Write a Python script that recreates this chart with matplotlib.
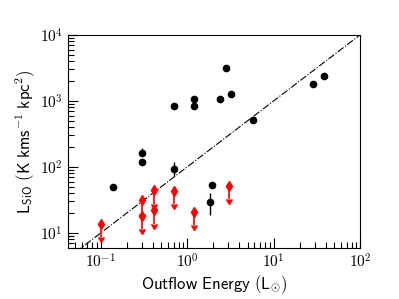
import matplotlib
matplotlib.use("Agg")
import matplotlib.pyplot as plt
import numpy as np
from matplotlib.ticker import FixedLocator, FixedFormatter, LogLocator, NullFormatter

plt.rcParams['mathtext.fontset'] = 'cm'

# Detections (black)
det_x = [0.14, 0.30, 0.30, 0.71, 0.71, 1.2, 1.2, 1.93, 1.82, 2.41, 2.8, 3.24, 5.82, 28.4, 38.4]
det_y = [50, 163, 119, 850, 93, 1085, 850, 54, 29, 1085, 3200, 1290, 520, 1810, 2390]
det_err_lo = [0, 0, 0, 0, 19, 0, 0, 0, 10.5, 0, 0, 0, 0, 0, 0]
det_err_hi = [0, 30, 0, 0, 25, 0, 0, 0, 11, 0, 0, 0, 0, 0, 0]

# Upper limits (red)
lim_x = [0.10, 0.30, 0.30, 0.41, 0.41, 0.71, 1.2, 3.09]
lim_y = [13.7, 31, 18, 44, 22, 43, 20.6, 52]

# Reference line L = 100 * E
line_x = [0.04, 100]
line_y = [4, 10000]

xticks = [0.1, 1, 10, 100]
xticklabels = [r'$10^{-1}$', r'$10^{0}$', r'$10^{1}$', r'$10^{2}$']
yticks = [10, 100, 1000, 10000]
yticklabels = [r'$10^{1}$', r'$10^{2}$', r'$10^{3}$', r'$10^{4}$']

fig = plt.figure(figsize=(3.99, 2.99), dpi=100)
ax = fig.add_axes([0.170, 0.171, 0.732, 0.712])

ax.plot(line_x, line_y, color='black', ls='-.', lw=0.8, zorder=1)

ax.errorbar(det_x, det_y, yerr=[det_err_lo, det_err_hi], fmt='o', color='black',
            ms=4.5, elinewidth=1.0, capsize=0, zorder=3)

lim_y_arr = np.array(lim_y)
ax.errorbar(lim_x, lim_y, yerr=0.37 * lim_y_arr, uplims=True, fmt='d', color='red',
            ms=5.5, elinewidth=1.2, capsize=2.5, zorder=3)

ax.set_xscale('log')
ax.set_yscale('log')
ax.set_xlim(0.0415, 100)
ax.set_ylim(5.93, 10000)

ax.xaxis.set_major_locator(FixedLocator(xticks))
ax.xaxis.set_major_formatter(FixedFormatter(xticklabels))
ax.yaxis.set_major_locator(FixedLocator(yticks))
ax.yaxis.set_major_formatter(FixedFormatter(yticklabels))
ax.xaxis.set_minor_locator(LogLocator(base=10, subs=np.arange(2, 10), numticks=20))
ax.yaxis.set_minor_locator(LogLocator(base=10, subs=np.arange(2, 10), numticks=20))
ax.xaxis.set_minor_formatter(NullFormatter())
ax.yaxis.set_minor_formatter(NullFormatter())

ax.tick_params(which='both', direction='in', top=False, right=False, labelsize=11)
ax.tick_params(which='major', length=7, width=0.8)
ax.tick_params(which='minor', length=4, width=0.8)
for s in ax.spines.values():
    s.set_linewidth(0.8)

ax.set_xlabel(r'$\mathsf{Outflow\ Energy\ (L_{\odot})}$', fontsize=12, labelpad=2)
ax.set_ylabel(r'$\mathsf{L_{SiO}\ (K\ kms^{-1}\ kpc^{2})}$', fontsize=12, labelpad=2)

fig.savefig('out.png', dpi=100)
